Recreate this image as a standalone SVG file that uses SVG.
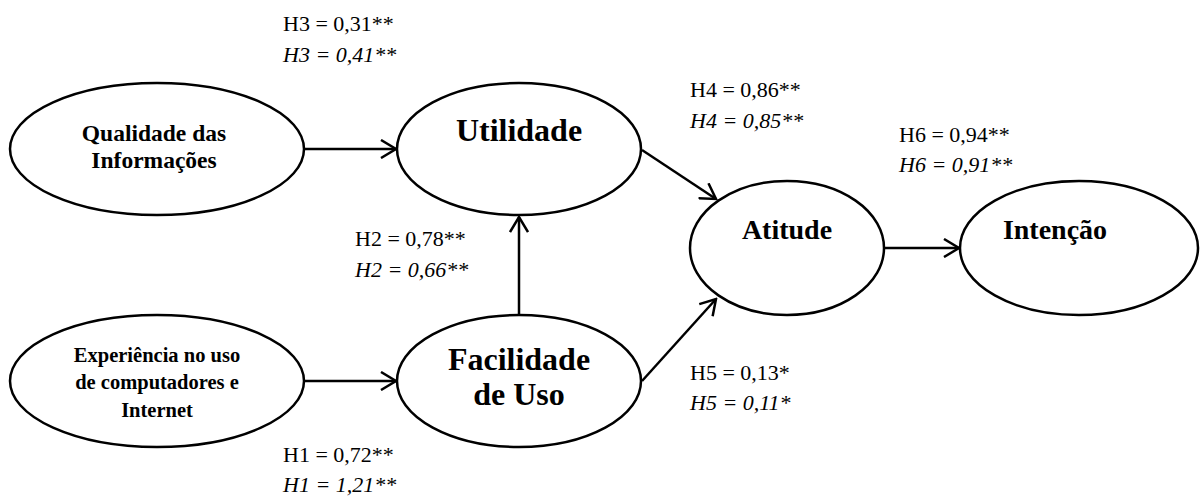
<svg xmlns="http://www.w3.org/2000/svg" width="1203" height="497" viewBox="0 0 1203 497">
<style>
.node{fill:#fff;stroke:#000;stroke-width:2.5}
.nt{font-weight:bold;fill:#000;text-anchor:middle}
.lb{font-size:22px;fill:#000}
.it{font-style:italic}
.edge{stroke:#000;stroke-width:2.5;fill:none;marker-end:url(#ah)}
</style>
<defs>
<marker id="ah" viewBox="0 0 18 20" refX="16" refY="10" markerWidth="18" markerHeight="20" markerUnits="userSpaceOnUse" orient="auto">
<path d="M1,1 L16,10 L1,19" fill="none" stroke="#000" stroke-width="2.5"/>
</marker>
</defs>
<g id="connectors">
<line class="edge" x1="305" y1="149" x2="396" y2="149"/>
<line class="edge" x1="305" y1="381" x2="396" y2="381"/>
<line class="edge" x1="519" y1="315" x2="519" y2="217"/>
<line class="edge" x1="642" y1="150" x2="716" y2="199"/>
<line class="edge" x1="642" y1="381" x2="716" y2="299"/>
<line class="edge" x1="883" y1="248" x2="959" y2="248"/>
</g>
<g font-family="Liberation Serif, Times New Roman, serif">
<g id="qualidade">
<ellipse class="node" cx="157" cy="149" rx="147" ry="66"/>
<text class="nt" font-size="23.5" x="154" y="141">Qualidade das</text>
<text class="nt" font-size="23.5" x="154" y="168">Informações</text>
</g>
<g id="utilidade">
<ellipse class="node" cx="519" cy="149" rx="122" ry="66"/>
<text class="nt" font-size="32" x="519" y="141">Utilidade</text>
</g>
<g id="experiencia">
<ellipse class="node" cx="157" cy="381" rx="147" ry="66"/>
<text class="nt" font-size="20.5" x="157" y="362">Experiência no uso</text>
<text class="nt" font-size="20.5" x="157" y="389">de computadores e</text>
<text class="nt" font-size="20.5" x="157" y="417">Internet</text>
</g>
<g id="facilidade">
<ellipse class="node" cx="519" cy="381" rx="122" ry="66"/>
<text class="nt" font-size="32" x="519" y="370">Facilidade</text>
<text class="nt" font-size="32" x="519" y="405">de Uso</text>
</g>
<g id="atitude">
<ellipse class="node" cx="787" cy="248" rx="97" ry="67"/>
<text class="nt" font-size="28" x="787" y="239">Atitude</text>
</g>
<g id="intencao">
<ellipse class="node" cx="1079" cy="248" rx="119" ry="67"/>
<text class="nt" font-size="28" x="1055" y="239">Intenção</text>
</g>
<g id="labels">
<text class="lb" x="283" y="31">H3 = 0,31**</text>
<text class="lb it" x="283" y="62">H3 = 0,41**</text>
<text class="lb" x="690" y="97">H4 = 0,86**</text>
<text class="lb it" x="690" y="128">H4 = 0,85**</text>
<text class="lb" x="355" y="246">H2 = 0,78**</text>
<text class="lb it" x="355" y="277">H2 = 0,66**</text>
<text class="lb" x="899" y="142">H6 = 0,94**</text>
<text class="lb it" x="899" y="172">H6 = 0,91**</text>
<text class="lb" x="690" y="380">H5 = 0,13*</text>
<text class="lb it" x="690" y="410">H5 = 0,11*</text>
<text class="lb" x="283" y="462">H1 = 0,72**</text>
<text class="lb it" x="283" y="492">H1 = 1,21**</text>
</g>
</g>
</svg>
